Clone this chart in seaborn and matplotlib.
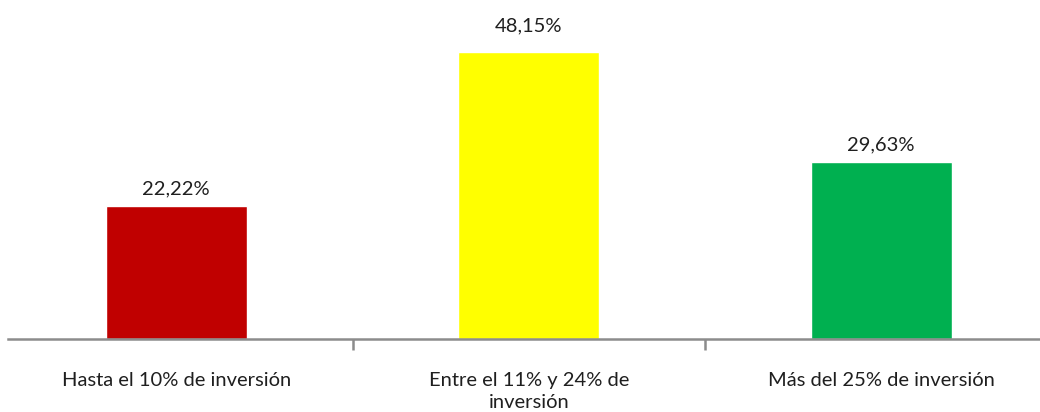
import seaborn as sns
import matplotlib.pyplot as plt
import pandas as pd

categorias = ['Hasta el 10% de inversión', 'Entre el 11% y 24% de\ninversión', 'Más del 25% de inversión']
valores = [22.22, 48.15, 29.63]
etiquetas = ['22,22%', '48,15%', '29,63%']
colores = ['#C00000', '#FFFF00', '#00B050']

df = pd.DataFrame({'cat': categorias, 'val': valores})

sns.set_style('white')
plt.rcParams['font.family'] = ['Lato', 'DejaVu Sans']

fig = plt.figure(figsize=(10.4, 4.12), dpi=100)
# el eje se sale un poco por la derecha, igual que en la imagen original
ax = fig.add_axes([0, 73 / 412, 1057.5 / 1040, 339 / 412])

sns.barplot(data=df, x='cat', y='val', hue='cat', palette=colores,
            width=0.4, saturation=1, legend=False, ax=ax)

ax.set_xlim(-0.5, 2.5)
ax.set_ylim(0, 56.8)

for i, v in enumerate(valores):
    # la etiqueta más alta queda algo más separada de su barra
    off = 4.3 if v == max(valores) else 2.9
    ax.text(i, v + off, etiquetas[i], ha='center', va='center',
            fontsize=14.5, color='#1f1f1f')

sns.despine(ax=ax, left=True)
ax.spines['bottom'].set_color('#8c8c8c')
ax.spines['bottom'].set_linewidth(1.8)
ax.spines['bottom'].set_bounds(-0.477, 2.5)

ax.set_yticks([])
ax.set_xticks([0.5, 1.5])
ax.set_xticklabels([])
ax.tick_params(axis='x', direction='out', length=8, width=1.8, color='#8c8c8c', bottom=True)

for i, c in enumerate(categorias):
    ax.text(i, -5.5, c, ha='center', va='top', fontsize=14.5,
            color='#1f1f1f', linespacing=1.4, multialignment='center')

ax.set_xlabel('')
ax.set_ylabel('')

fig.savefig('out.png', dpi=100)
